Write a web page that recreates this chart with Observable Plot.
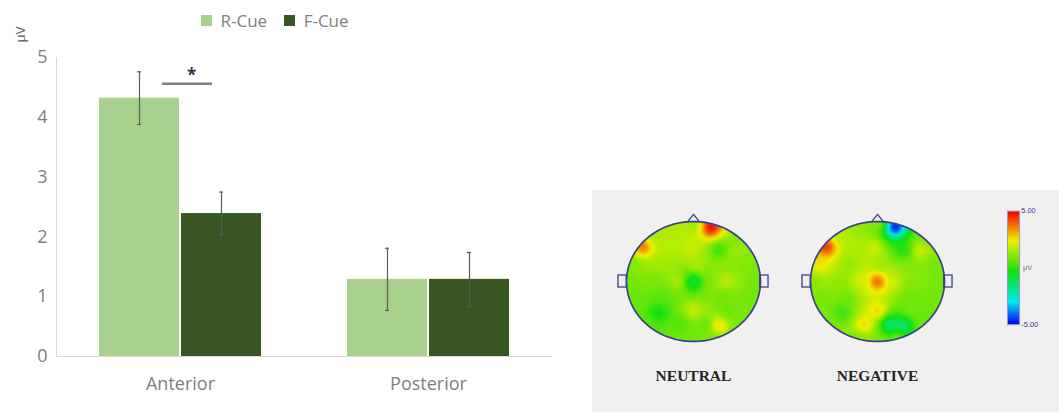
<!DOCTYPE html>
<html>
<head>
<meta charset="utf-8">
<script src="https://cdn.jsdelivr.net/npm/d3@7"></script>
<script src="https://cdn.jsdelivr.net/npm/@observablehq/plot@0.6"></script>
<style>
  body { margin: 0; background: #ffffff; }
  #root { position: relative; width: 1059px; height: 412px; overflow: hidden; font-family: "Open Sans", sans-serif; }
  #root > * , #panel > * { position: absolute; }
  #bars { left: 0; top: 0; }
  #legend { left: 201px; top: 4px; }
  #panel { left: 592px; top: 190px; width: 467px; height: 222px; background: #f0f0f0; }
  #topo { left: 0; top: 0; }
  #colorbar { left: 415px; top: 12px; }
</style>
</head>
<body>
<div id="root">
  <div id="bars"></div>
  <div id="legend"></div>
  <div id="panel"><div id="topo"></div><div id="colorbar"></div></div>
</div>
<script>
// ---- ERP amplitude by region and cue (mean ± error, μV) ----
const categories = ["Anterior", "Posterior"];
const series = ["R-Cue", "F-Cue"];
const rCueMean = [4.32, 1.29];
const fCueMean = [2.39, 1.29];
const rCueErr = [0.44, 0.52];
const fCueErr = [0.36, 0.45];
const yTicks = [0, 1, 2, 3, 4, 5];
const seriesColors = ["#a9d18e", "#385723"];
const significance = [{category: "Anterior", y: 4.56, mark: "*"}];

// ---- scalp maps: electrode positions (head units) and amplitudes (μV) ----
const conditions = ["NEUTRAL", "NEGATIVE"];
const electrodeNames = ["Fp1","Fpz","Fp2","AF7","AF3","AFz","AF4","AF8","F5","F6","F7","F3","Fz","F4","F8",
  "T7","C5","C3","Cz","C4","C6","T8","TP7","CP3","CP4","TP8","P5","Pz","P4","PO7","PO3","POz","PO4","PO8","O1","Oz","O2"];
const electrodeX = [-0.28, 0.00, 0.26,-0.76,-0.40,-0.05, 0.38, 0.64,-0.62, 0.68,-0.88,-0.45, 0.05, 0.45, 0.86,
  -0.97,-0.55,-0.25, 0.00, 0.25, 0.48, 0.97,-0.85,-0.45, 0.45, 0.85,-0.52, 0.00, 0.50,-0.68,-0.20, 0.18, 0.38, 0.68,-0.30, 0.00, 0.30];
const electrodeY = [ 0.90, 0.96, 0.90, 0.58, 0.60, 0.55, 0.52, 0.52, 0.78, 0.74, 0.30, 0.28, 0.28, 0.28, 0.30,
   0.00, 0.00, 0.00, 0.00, 0.00, 0.00, 0.00,-0.32,-0.25,-0.25,-0.32,-0.52,-0.48,-0.50,-0.72,-0.72,-0.72,-0.74,-0.72,-0.94,-0.98,-0.94];
const neutralUV = [ 1.6, 1.4, 5.0, 3.8, 1.7, 2.0, 0.1, 1.3, 1.4, 1.0, 1.0, 1.4, 1.6, 1.2, 1.0,
   0.8, 0.9, 1.5,-1.2, 1.0, 1.8, 0.8, 0.7, 0.5, 0.8, 0.8,-0.5, 1.9, 0.7, 0.6, 0.4, 0.7, 2.8, 0.8, 0.7, 0.8, 0.9];
const negativeUV = [ 1.3, 1.0,-5.0, 4.5, 1.6, 2.0,-0.3, 2.0, 1.6, 0.9, 2.6, 1.2, 1.4, 1.0, 0.9,
   1.0, 1.2, 2.0, 4.0, 2.0, 1.1, 0.8, 0.9, 0.8, 0.8, 0.8, 0.1, 2.8, 0.9, 0.9, 2.8,-1.8,-1.8, 0.8, 1.0, 1.0, 0.8];
const colorbarTicks = [-5, 5];
const colorStops = [-5, -3, -0.4, 2.4, 5];
const colorRamp = ["#0000f0", "#00e8f0", "#10e010", "#f0f000", "#f00000"];

// head drawing pieces (head units: the scalp is the unit circle)
const headOutline = d3.range(0, 361, 4).map(a => ({x: Math.cos(a * Math.PI / 180), y: Math.sin(a * Math.PI / 180)}));
const nose = [{x: -0.09, y: 0.995}, {x: 0, y: 1.12}, {x: 0.09, y: 0.995}];
const ears = [{x1: -1.12, x2: -0.995, y1: -0.1, y2: 0.1}, {x1: 0.995, x2: 1.12, y1: -0.1, y2: 0.1}];

// ---------------- bar chart ----------------
const barRows = categories.flatMap((category, i) => [
  {category, series: series[0], mean: rCueMean[i], err: rCueErr[i]},
  {category, series: series[1], mean: fCueMean[i], err: fCueErr[i]}
]);
const axisGray = "#808080";
const errGray = "#5a5a5a";

const bars = Plot.plot({
  width: 560,
  height: 412,
  marginLeft: 55,
  marginRight: 8,
  marginTop: 57,
  marginBottom: 56,
  style: {fontFamily: "Open Sans", fontSize: "18px", color: axisGray, background: "transparent"},
  fx: {domain: categories, padding: 0, label: null},
  x: {domain: series, paddingInner: 0.02, paddingOuter: 0.515, axis: null},
  y: {domain: [0, 5], label: null},
  color: {domain: series, range: seriesColors},
  marks: [
    Plot.frame({anchor: "left", facetAnchor: "left", stroke: "#d9d9d9"}),
    Plot.barY(barRows, {fx: "category", x: "series", y: "mean", fill: "series"}),
    Plot.ruleY([0], {stroke: "#d9d9d9", strokeWidth: 1.2}),
    Plot.ruleX(barRows, {fx: "category", x: "series", y1: d => d.mean - d.err, y2: d => d.mean + d.err, stroke: errGray, strokeWidth: 1.2}),
    Plot.tickY(barRows, {fx: "category", x: "series", y: d => d.mean + d.err, insetLeft: 38, insetRight: 38, stroke: errGray, strokeWidth: 1.2}),
    Plot.tickY(barRows, {fx: "category", x: "series", y: d => d.mean - d.err, insetLeft: 38, insetRight: 38, stroke: errGray, strokeWidth: 1.2}),
    Plot.ruleY(significance, {fx: "category", y: "y", insetLeft: 106, insetRight: 92, stroke: "#808080", strokeWidth: 2.5}),
    Plot.text(significance, {fx: "category", y: "y", text: "mark", dx: 11, dy: -8, fontSize: 17, fontWeight: "bold", fill: "#303030"}),
    Plot.axisY({ticks: yTicks, tickFormat: d => String(d), tickSize: 0, tickPadding: 9, label: null}),
    Plot.axisFx({anchor: "bottom", tickSize: 0, tickPadding: 21, label: null}),
    Plot.text([{category: "Anterior", unit: "μV"}], {
      fx: "category", text: "unit", frameAnchor: "top-left", rotate: -90,
      textAnchor: "middle", lineAnchor: "middle", dx: -36, dy: -23,
      fontSize: 13, fill: "#595959"
    })
  ]
});
document.getElementById("bars").append(bars);

const legend = Plot.legend({
  color: {domain: series, range: seriesColors},
  legend: "swatches",
  swatchSize: 11,
  style: {fontFamily: "Open Sans", fontSize: "17px", color: axisGray}
});
document.getElementById("legend").append(legend);

// ---------------- scalp maps ----------------
const topoRows = conditions.flatMap(condition => electrodeNames.map((name, i) => ({
  condition, name, x: electrodeX[i], y: electrodeY[i],
  uV: condition === "NEUTRAL" ? neutralUV[i] : negativeUV[i]
})));

// inverse-distance weighting over the grid, lightly smoothed,
// then pixels outside the scalp ellipse are left empty
function scalpInterpolate(index, width, height, X, Y, V) {
  const grid = new Float64Array(width * height);
  for (let j = 0; j < height; ++j) {
    for (let i = 0; i < width; ++i) {
      const px = i + 0.5, py = j + 0.5;
      let s = 0, sw = 0;
      for (const k of index) {
        const dx = X[k] - px, dy = Y[k] - py;
        const w = 1 / Math.pow(dx * dx + dy * dy + 1e-6, 1.25);
        s += w * V[k];
        sw += w;
      }
      grid[j * width + i] = s / sw;
    }
  }
  d3.blur2({data: grid, width, height}, 2);
  for (let j = 0; j < height; ++j) {
    for (let i = 0; i < width; ++i) {
      const u = (i + 0.5) / width * 2 - 1, v = (j + 0.5) / height * 2 - 1;
      if (u * u + v * v > 1) grid[j * width + i] = NaN;
    }
  }
  return grid;
}

const colorScale = {type: "linear", domain: colorStops, range: colorRamp, interpolate: "rgb", clamp: true};
const headStroke = "#3e3e90";

const topo = Plot.plot({
  width: 377,
  height: 222,
  marginLeft: 9,
  marginRight: 0,
  marginTop: 10,
  marginBottom: 50,
  style: {background: "transparent"},
  fx: {domain: conditions, padding: 0, label: null},
  x: {domain: [-1.373, 1.373], axis: null},
  y: {domain: [-1.35, 1.35], axis: null},
  color: colorScale,
  marks: [
    Plot.raster(topoRows, {fx: "condition", x: "x", y: "y", fill: "uV", x1: -1, x2: 1, y1: -1, y2: 1, interpolate: scalpInterpolate}),
    Plot.rect(ears, {x1: "x1", x2: "x2", y1: "y1", y2: "y2", fill: "#f0f0f0", stroke: headStroke, strokeWidth: 1.3}),
    Plot.line(nose, {x: "x", y: "y", stroke: headStroke, strokeWidth: 1.3, fill: "#f0f0f0"}),
    Plot.line(headOutline, {x: "x", y: "y", stroke: headStroke, strokeWidth: 1.7, curve: "linear-closed"}),
    Plot.axisFx({anchor: "bottom", tickSize: 0, tickPadding: 7, label: null,
      fontFamily: "Liberation Serif", fontWeight: "bold", fontSize: 15.5, fill: "#262626"})
  ]
});
document.getElementById("topo").append(topo);

const colorbar = Plot.plot({
  width: 60,
  height: 151,
  marginLeft: 0,
  marginRight: 46,
  marginTop: 10,
  marginBottom: 10,
  style: {background: "transparent", fontFamily: "Liberation Sans", fontSize: "8.5px"},
  x: {domain: [0, 1], axis: null},
  y: {domain: [-5, 5], axis: null},
  color: colorScale,
  marks: [
    Plot.raster({x1: 0, x2: 1, y1: -5, y2: 5, fill: (x, y) => y}),
    Plot.frame({stroke: "#9a9ac8", strokeWidth: 1.2}),
    Plot.axisY({anchor: "right", ticks: colorbarTicks, tickFormat: d => d.toFixed(2), tickSize: 0, tickPadding: 2,
      fill: "#3a3aa0", fontSize: 8.5, label: null}),
    Plot.text(["μV"], {text: d => d, frameAnchor: "right", textAnchor: "start", dx: 4, y: 0, fontSize: 8.5, fill: "#707070"})
  ]
});
document.getElementById("colorbar").append(colorbar);
</script>
</body>
</html>
